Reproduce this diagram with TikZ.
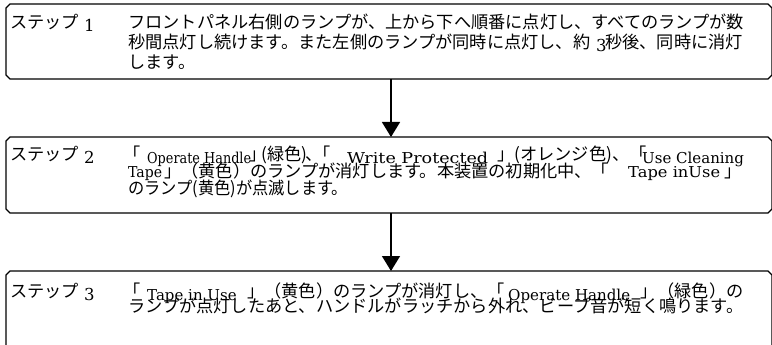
\documentclass[tikz,border=0pt]{standalone}
\usepackage{fontspec}
\usepackage{graphicx}
\newfontfamily\jpfam{Noto Sans CJK JP}
\newfontfamily\latfam{DejaVu Serif}
\usetikzlibrary{arrows.meta,calc}
\newcommand\jpsize{\jpfam\fontsize{17.2}{17.2}\selectfont}
\newcommand\latsz{\latfam\fontsize{15}{15}\selectfont}
\newcommand\digsz{\latfam\fontsize{16.5}{16.5}\selectfont}
\newcommand\lw[2]{\resizebox{#1pt}{\height}{#2}}
\newcommand\chamferbox[1]{%
  \draw[boxline] ($(#1.north west)+(4,0)$) -- ($(#1.north east)+(-4,0)$) -- ($(#1.north east)+(0,4)$)
   -- ($(#1.south east)+(0,-4)$) -- ($(#1.south east)+(-4,0)$) -- ($(#1.south west)+(4,0)$)
   -- ($(#1.south west)+(0,-4)$) -- ($(#1.north west)+(0,4)$) -- cycle;}
\begin{document}
\begin{tikzpicture}[x=1pt,y=-1pt,
  boxn/.style={minimum width=766pt,inner sep=0pt,outer sep=0pt},
  boxline/.style={line width=1.3pt,line join=round},
  arr/.style={line width=1.4pt,-{Triangle[width=18pt,length=15pt]}},
  jt/.style={anchor=base west,inner sep=0pt,font=\jpsize},
  lt/.style={anchor=base west,inner sep=0pt,font=\latsz},
  dg/.style={anchor=base west,inner sep=0pt,font=\digsz}]
\useasboundingbox (0,0) rectangle (772,345);
\clip (0,0) rectangle (772,345);
\fill[white] (0,0) rectangle (772,345);
% boxes
\node[boxn,minimum height=75pt] (box1) at (389,41.5) {};
\node[boxn,minimum height=76pt] (box2) at (389,175) {};
\node[boxn,minimum height=84pt] (box3) at (389,313) {};
\chamferbox{box1}
\chamferbox{box2}
\chamferbox{box3}
% arrows
\coordinate (ax) at (391,0);
\draw[arr] (box1.south -| ax) -- (box2.north -| ax);
\draw[arr] (box2.south -| ax) -- (box3.north -| ax);
% box 1
\node[jt] (s1) at (10,28.5) {ステップ};
\node[dg] (s1n) at (84,32) {1};
\node[jt] (b1l1) at (128,28.5) {フロントパネル右側のランプが、上から下へ順番に点灯し、すべてのランプが数};
\node[jt] (b1l2a) at (128,48.5) {秒間点灯し続けます。また左側のランプが同時に点灯し、約};
\node[dg] (b1l2n) at (596,51.5) {3};
\node[jt] (b1l2b) at (605,48.5) {秒後、同時に消灯};
\node[jt] (b1l3) at (128,68.5) {します。};
% box 2
\node[jt] (s2) at (10,160.5) {ステップ};
\node[dg] (s2n) at (84,164) {2};
\node[jt] (b2a) at (123,160.5) {「};
\node[lt] (b2b) at (147,163) {\lw{104}{Operate Handle}};
\node[jt] (b2c) at (249,160.5) {」};
\node[jt] (b2d) at (261,160.5) {(緑色)};
\node[jt] (b2d2) at (305,160.5) {、};
\node[jt] (b2e) at (313,160.5) {「};
\node[lt] (b2f) at (347,163) {\lw{141}{Write Protected}};
\node[jt] (b2g) at (497,160.5) {」(オレンジ色)、「};
\node[lt] (b2h) at (642,163) {Use Cleaning};
\node[lt] (b2i) at (128,177.5) {\lw{34}{Tape}};
\node[jt] (b2j) at (164,177.5) {」（黄色）のランプが消灯します。本装置の初期化中、「};
\node[lt] (b2k) at (628,178) {\lw{92}{Tape inUse}};
\node[jt] (b2l) at (724,177.5) {」};
\node[jt] (b2m) at (128,194) {\lw{220}{のランプ(黄色)が点滅します。}};
% box 3
\node[jt] (s3) at (10,297) {ステップ};
\node[dg] (s3n) at (84,300.5) {3};
\node[jt] (b3a) at (123,297) {「};
\node[lt] (b3b) at (147,300.5) {Tape in Use};
\node[jt] (b3c) at (247,297) {」（黄色）のランプが消灯し、「};
\node[lt] (b3d) at (508,300) {\lw{122}{Operate Handle}};
\node[jt] (b3e) at (640,297) {」（緑色）の};
\node[jt] (b3f) at (128,312.5) {ランプが点灯したあと、ハンドルがラッチから外れ、ビープ音が短く鳴ります。};
\end{tikzpicture}
\end{document}
